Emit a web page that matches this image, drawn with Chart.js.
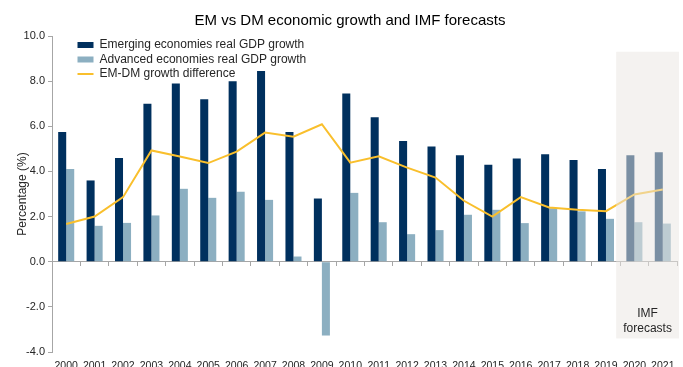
<!DOCTYPE html>
<html>
<head>
<meta charset="utf-8">
<script src="https://cdn.jsdelivr.net/npm/chart.js@4"></script>
<style>
  html, body { margin: 0; padding: 0; background: #fff; overflow: hidden; }
  #wrap { position: relative; width: 683px; height: 374px; }
</style>
</head>
<body>
<div id="wrap"><canvas id="chart"></canvas></div>
<script>
'use strict';

// Data
const years = ['2000', '2001', '2002', '2003', '2004', '2005', '2006', '2007', '2008', '2009', '2010',
               '2011', '2012', '2013', '2014', '2015', '2016', '2017', '2018', '2019', '2020', '2021'];
const emGrowth = [5.75, 3.6, 4.6, 7.0, 7.9, 7.2, 8.0, 8.45, 5.75, 2.8, 7.45,
                  6.4, 5.35, 5.1, 4.72, 4.3, 4.57, 4.76, 4.51, 4.11, 4.72, 4.85];
const dmGrowth = [4.11, 1.59, 1.72, 2.05, 3.23, 2.83, 3.1, 2.74, 0.23, -3.27, 3.05,
                  1.75, 1.22, 1.4, 2.08, 2.3, 1.71, 2.37, 2.23, 1.9, 1.75, 1.69];
const growthDiff = [1.67, 2.0, 2.86, 4.93, 4.66, 4.37, 4.88, 5.72, 5.54, 6.09, 4.39,
                    4.67, 4.17, 3.73, 2.7, 2.0, 2.86, 2.4, 2.3, 2.24, 2.98, 3.2];
const yTicks = [-4, -2, 0, 2, 4, 6, 8, 10];
const forecastFrom = '2020';

const FONT = 'Liberation Sans, Arial, sans-serif';
const AXIS = '#a6a6a6';
const TEXT = '#262626';

// title, forecast shading and note
const decor = {
  id: 'decor',
  afterLayout(chart) {
    // put the in-area legend where the reference has it
    const area = chart.chartArea;
    chart.legend.left = area.left + 23;
    chart.legend.top = area.top + 0.5;
  },
  afterDatasetsDraw(chart) {
    const { ctx, chartArea, scales } = chart;
    const x = scales.x, y = scales.y;
    const i = years.indexOf(forecastFrom);
    const left = (x.getPixelForValue(i - 1) + x.getPixelForValue(i)) / 2 - 4;
    const right = chartArea.right + 2;
    const top = y.getPixelForValue(9.3);
    const bottom = y.getPixelForValue(-3.4);
    ctx.save();
    ctx.fillStyle = 'rgba(234,230,227,0.52)';
    ctx.fillRect(left, top, right - left, bottom - top);
    ctx.fillStyle = TEXT;
    ctx.font = '12px ' + FONT;
    ctx.textAlign = 'center';
    ctx.textBaseline = 'middle';
    const cx = (left + right) / 2;
    ctx.fillText('IMF', cx, y.getPixelForValue(-2.3));
    ctx.fillText('forecasts', cx, y.getPixelForValue(-2.95));
    ctx.restore();
  },
  afterDraw(chart) {
    const ctx = chart.ctx;
    ctx.save();
    ctx.fillStyle = '#000';
    ctx.font = '15px ' + FONT;
    ctx.textAlign = 'center';
    ctx.textBaseline = 'middle';
    ctx.fillText('EM vs DM economic growth and IMF forecasts', 350, 21);
    ctx.restore();
  }
};

new Chart(document.getElementById('chart'), {
  type: 'bar',
  data: {
    labels: years,
    datasets: [
      { label: 'Emerging economies real GDP growth', data: emGrowth, backgroundColor: '#00305e',
        borderWidth: 0, order: 1, pointStyle: 'rect' },
      { label: 'Advanced economies real GDP growth', data: dmGrowth, backgroundColor: '#8cafc1',
        borderWidth: 0, order: 1, pointStyle: 'rect' },
      { type: 'line', label: 'EM-DM growth difference', data: growthDiff, borderColor: '#f9bf2c',
        backgroundColor: '#f9bf2c', borderWidth: 2, pointRadius: 0, tension: 0, order: 0,
        pointStyle: 'line' }
    ]
  },
  options: {
    responsive: true,
    maintainAspectRatio: false,
    animation: false,
    layout: { padding: { top: 36, right: 6, left: 0, bottom: 0 } },
    datasets: { bar: { categoryPercentage: 0.565, barPercentage: 1.0 } },
    plugins: {
      title: { display: false },
      tooltip: { enabled: false },
      legend: {
        position: 'chartArea',
        align: 'start',
        labels: {
          usePointStyle: true,
          pointStyleWidth: 16,
          boxHeight: 6,
          padding: 2.5,
          color: TEXT,
          font: { family: FONT, size: 12 },
          sort: (a, b) => a.datasetIndex - b.datasetIndex
        }
      }
    },
    scales: {
      x: {
        type: 'category',
        position: { y: 0 },
        offset: true,
        afterFit: s => { s.height = 0; },
        ticks: { display: false },
        grid: { display: true, offset: true, drawOnChartArea: false, drawTicks: true, tickLength: 4, color: AXIS },
        border: { display: true, color: AXIS }
      },
      x2: {
        type: 'category',
        labels: years,
        position: 'bottom',
        offset: true,
        afterFit: s => { s.height = 22; },
        grid: { display: false, drawTicks: false, tickLength: 0 },
        border: { display: false },
        ticks: { padding: 8, color: TEXT, font: { family: FONT, size: 10.5 }, maxRotation: 0, autoSkip: false }
      },
      y: {
        min: -4,
        max: 10,
        afterBuildTicks: s => { s.ticks = yTicks.map(v => ({ value: v })); },
        afterFit: s => { s.width = 52; },
        ticks: { color: TEXT, font: { family: FONT, size: 11 }, padding: 3, callback: v => v.toFixed(1) },
        grid: { display: true, drawOnChartArea: false, drawTicks: true, tickLength: 4, color: AXIS },
        border: { display: true, color: AXIS },
        title: { display: true, text: 'Percentage (%)', color: TEXT, font: { family: FONT, size: 12 },
                 padding: { top: 15, bottom: 0 } }
      }
    }
  },
  plugins: [decor]
});
</script>
</body>
</html>
